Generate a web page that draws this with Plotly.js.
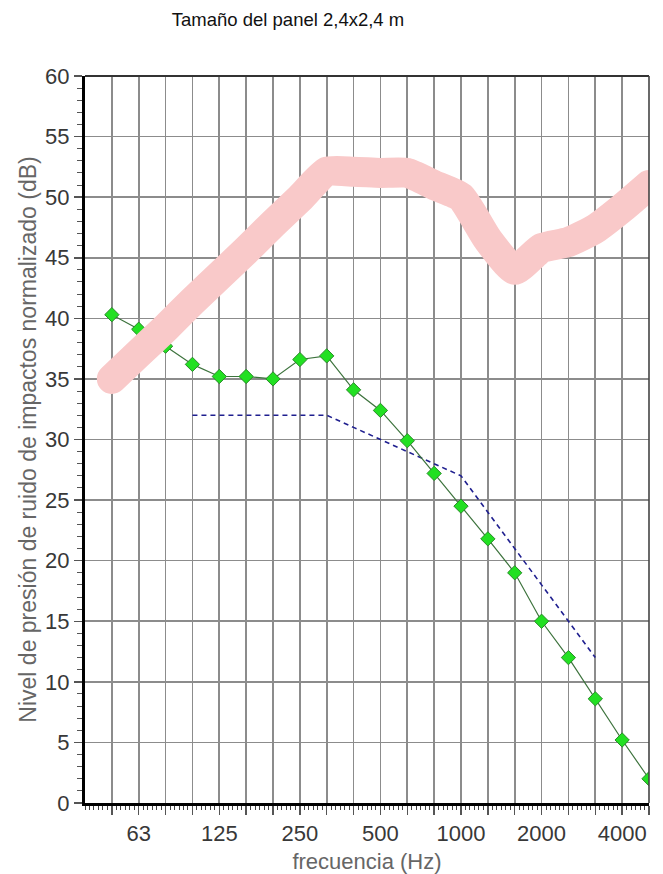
<!DOCTYPE html>
<html>
<head>
<meta charset="utf-8">
<script src="https://cdn.plot.ly/plotly-3.0.1.min.js"></script>
<style>
html,body{margin:0;padding:0;background:#fff;}
#chart{width:663px;height:874px;}
</style>
</head>
<body>
<div id="chart"></div>
<script>
// Third-octave band centre frequencies (Hz)
const categories = ['50','63','80','100','125','160','200','250','315','400','500','630','800','1000','1250','1600','2000','2500','3150','4000','5000'];
// Labelled ticks on the frequency axis
const tickLabels = ['63','125','250','500','1000','2000','4000'];
// Measured normalized impact sound pressure level (dB)
const measured = [40.3, 39.1, 37.7, 36.2, 35.2, 35.2, 35.0, 36.6, 36.9, 34.1, 32.4, 29.9, 27.2, 24.5, 21.8, 19.0, 15.0, 12.0, 8.6, 5.2, 2.0];
// Shifted reference curve (dB), 100 Hz - 3150 Hz
const reference = [null, null, null, 32, 32, 32, 32, 32, 32, 31, 30, 29, 28, 27, 24, 21, 18, 15, 12, null, null];
// Highlighted (pink) curve (dB)
const highlight = [35.0, 37.1, 39.2, 41.4, 43.5, 45.6, 47.8, 49.9, 52.1, 52.1, 52.0, 52.0, 51.0, 50.0, 46.5, 44.0, 45.8, 46.3, 47.4, 49.1, 51.0];

const xIdx = categories.map((c, i) => i);
const tickText = categories.map(c => tickLabels.includes(c) ? c : '');

const FONT = 'Liberation Sans, Arial, sans-serif';

const traces = [
  {
    x: xIdx, y: reference, type: 'scatter', mode: 'lines',
    line: {color: '#1f1f8f', width: 1.6, dash: '5px,4px'},
    hoverinfo: 'skip', connectgaps: false
  },
  {
    x: xIdx, y: measured, type: 'scatter', mode: 'lines+markers',
    line: {color: '#3d733d', width: 1.2},
    marker: {symbol: 'diamond', size: 11, color: '#22e022', line: {color: '#2a8a2a', width: 1}}
  },
  {
    x: xIdx, y: highlight, type: 'scatter', mode: 'lines',
    line: {color: '#f9c9c9', width: 30, shape: 'spline', smoothing: 0.5},
    hoverinfo: 'skip'
  }
];

const layout = {
  width: 663, height: 874,
  margin: {l: 85, r: 14, t: 76, b: 71},
  paper_bgcolor: '#ffffff', plot_bgcolor: '#ffffff',
  showlegend: false,
  font: {family: FONT, color: '#3c3c3c'},
  title: {
    text: 'Tamaño del panel 2,4x2,4 m',
    font: {family: FONT, size: 18.5, color: '#111'},
    x: 288/663, xref: 'container', xanchor: 'center',
    y: 1 - 20/874, yref: 'container', yanchor: 'middle'
  },
  xaxis: {
    type: 'linear', range: [-1, 20], fixedrange: true,
    tickmode: 'array', tickvals: xIdx, ticktext: tickText,
    ticks: 'outside', ticklen: 9, tickwidth: 1.5, tickcolor: '#555',
    tickfont: {family: FONT, size: 22, color: '#383838'},
    showgrid: true, gridcolor: '#8c8c8c', gridwidth: 1.6,
    showline: true, linecolor: '#000', linewidth: 3,
    zeroline: false,
    minor: {tickmode: 'linear', tick0: 0, dtick: 1/6, ticks: 'outside', ticklen: 4, tickwidth: 1, tickcolor: '#444', showgrid: false},
    title: {text: 'frecuencia (Hz)', font: {family: FONT, size: 22, color: '#666'}, standoff: 9}
  },
  yaxis: {
    range: [0, 60], fixedrange: true,
    tickmode: 'linear', tick0: 0, dtick: 5,
    ticks: 'outside', ticklen: 8, tickwidth: 1.5, tickcolor: '#555',
    tickfont: {family: FONT, size: 22, color: '#383838'},
    showgrid: true, gridcolor: '#8c8c8c', gridwidth: 1.6,
    showline: true, linecolor: '#000', linewidth: 3,
    zeroline: false,
    minor: {tickmode: 'linear', tick0: 0, dtick: 1, ticks: 'outside', ticklen: 5, tickwidth: 1, tickcolor: '#555', showgrid: false},
    title: {text: 'Nivel de presión de ruido de impactos normalizado (dB)', font: {family: FONT, size: 23, color: '#666'}, standoff: 3}
  },
  shapes: [
    {type: 'line', xref: 'paper', yref: 'paper', x0: 0, x1: 1, y0: 1, y1: 1, line: {color: '#333', width: 2}},
    {type: 'line', xref: 'paper', yref: 'paper', x0: 1, x1: 1, y0: 0, y1: 1, line: {color: '#444', width: 1.6}}
  ]
};

Plotly.newPlot('chart', traces, layout, {displayModeBar: false, staticPlot: true}).then(gd => {
  // rounded brush-like ends and joins for the thick pink stroke
  const tr = gd.querySelectorAll('.scatterlayer .trace');
  if (tr.length >= 3) {
    tr[2].querySelectorAll('path.js-line').forEach(p => {
      p.style.strokeLinecap = 'round';
      p.style.strokeLinejoin = 'round';
    });
  }
});
</script>
</body>
</html>
